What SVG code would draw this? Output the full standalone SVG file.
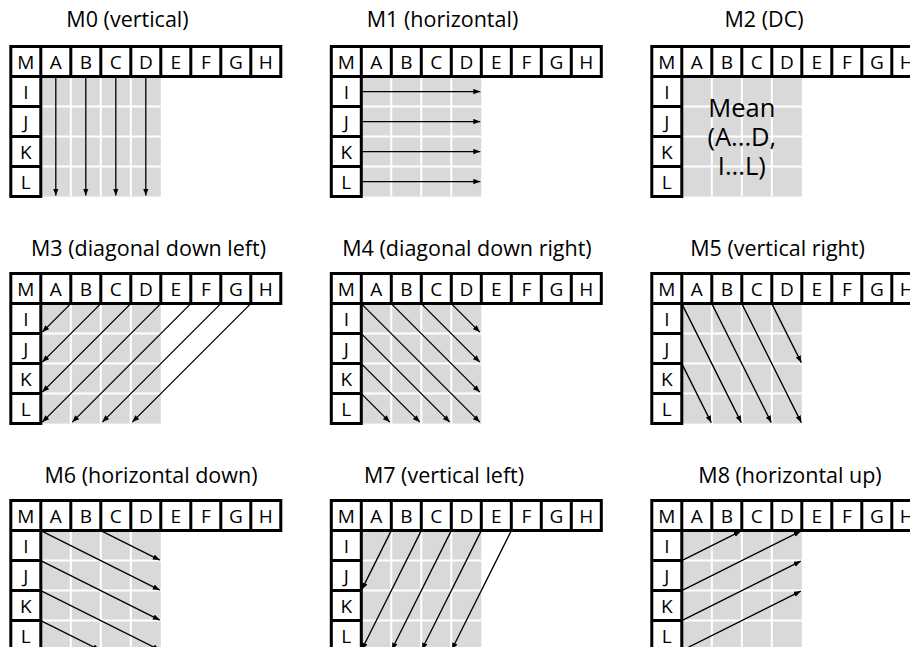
<svg xmlns="http://www.w3.org/2000/svg" xmlns:xlink="http://www.w3.org/1999/xlink" width="910" height="647" viewBox="0 0 910 647">
<style>
.t{font-family:"Open Sans","Noto Sans","Liberation Sans",sans-serif;font-size:21.5px;fill:#000;text-anchor:middle}
.c{font-family:"Open Sans","Noto Sans","Liberation Sans",sans-serif;font-size:19px;fill:#000;text-anchor:middle}
.mean{font-family:"Open Sans","Noto Sans","Liberation Sans",sans-serif;font-size:25.5px;fill:#000;text-anchor:middle}
.a line{stroke:#000;stroke-width:1.3;marker-end:url(#ah)}
</style>
<defs>
<marker id="ah" markerUnits="userSpaceOnUse" markerWidth="8" markerHeight="6" refX="7" refY="2.75" orient="auto">
<path d="M0,0L7,2.75L0,5.5Z" fill="#000"/>
</marker>
<g id="frame">
<rect x="30" y="30" width="120" height="120" fill="#d9d9d9"/>
<path d="M60,30V150M90,30V150M120,30V150M30,60H150M30,90H150M30,120H150" stroke="#fff" stroke-width="2"/>
<path d="M0,0H270V30H30V150H0Z M30,0V30M60,0V30M90,0V30M120,0V30M150,0V30M180,0V30M210,0V30M240,0V30M0,30H30M0,60H30M0,90H30M0,120H30" fill="none" stroke="#000" stroke-width="3"/>
</g>
</defs>
<rect width="910" height="647" fill="#fff"/>

<g id="titles">
<text class="t" x="127.5" y="27">M0 (vertical)</text>
<text class="t" x="442.5" y="27">M1 (horizontal)</text>
<text class="t" x="764" y="27">M2 (DC)</text>
<text class="t" x="148.5" y="255.5">M3 (diagonal down left)</text>
<text class="t" x="467" y="255.5">M4 (diagonal down right)</text>
<text class="t" x="777.5" y="255.5">M5 (vertical right)</text>
<text class="t" x="151" y="483">M6 (horizontal down)</text>
<text class="t" x="444" y="483">M7 (vertical left)</text>
<text class="t" x="790" y="483">M8 (horizontal up)</text>
</g>

<g id="m0" transform="translate(10.8,46.6)">
<use xlink:href="#frame"/>
<text class="c" x="15" y="22">M</text><text class="c" x="45" y="22">A</text><text class="c" x="75" y="22">B</text><text class="c" x="105" y="22">C</text><text class="c" x="135" y="22">D</text><text class="c" x="165" y="22">E</text><text class="c" x="195" y="22">F</text><text class="c" x="225" y="22">G</text><text class="c" x="255" y="22">H</text>
<text class="c" x="15" y="52">I</text><text class="c" x="15" y="82">J</text><text class="c" x="15" y="112">K</text><text class="c" x="15" y="142">L</text>
</g>
<g id="m1" transform="translate(331.3,46.6)">
<use xlink:href="#frame"/>
<text class="c" x="15" y="22">M</text><text class="c" x="45" y="22">A</text><text class="c" x="75" y="22">B</text><text class="c" x="105" y="22">C</text><text class="c" x="135" y="22">D</text><text class="c" x="165" y="22">E</text><text class="c" x="195" y="22">F</text><text class="c" x="225" y="22">G</text><text class="c" x="255" y="22">H</text>
<text class="c" x="15" y="52">I</text><text class="c" x="15" y="82">J</text><text class="c" x="15" y="112">K</text><text class="c" x="15" y="142">L</text>
</g>
<g id="m2" transform="translate(651.8,46.6)">
<use xlink:href="#frame"/>
<text class="c" x="15" y="22">M</text><text class="c" x="45" y="22">A</text><text class="c" x="75" y="22">B</text><text class="c" x="105" y="22">C</text><text class="c" x="135" y="22">D</text><text class="c" x="165" y="22">E</text><text class="c" x="195" y="22">F</text><text class="c" x="225" y="22">G</text><text class="c" x="255" y="22">H</text>
<text class="c" x="15" y="52">I</text><text class="c" x="15" y="82">J</text><text class="c" x="15" y="112">K</text><text class="c" x="15" y="142">L</text>
<text class="mean" x="90" y="70.5">Mean</text>
<text class="mean" x="90" y="99.5">(A...D,</text>
<text class="mean" x="90" y="128.5">I...L)</text>
</g>
<g id="m3" transform="translate(10.8,273.6)">
<use xlink:href="#frame"/>
<text class="c" x="15" y="22">M</text><text class="c" x="45" y="22">A</text><text class="c" x="75" y="22">B</text><text class="c" x="105" y="22">C</text><text class="c" x="135" y="22">D</text><text class="c" x="165" y="22">E</text><text class="c" x="195" y="22">F</text><text class="c" x="225" y="22">G</text><text class="c" x="255" y="22">H</text>
<text class="c" x="15" y="52">I</text><text class="c" x="15" y="82">J</text><text class="c" x="15" y="112">K</text><text class="c" x="15" y="142">L</text>
</g>
<g id="m4" transform="translate(331.3,273.6)">
<use xlink:href="#frame"/>
<text class="c" x="15" y="22">M</text><text class="c" x="45" y="22">A</text><text class="c" x="75" y="22">B</text><text class="c" x="105" y="22">C</text><text class="c" x="135" y="22">D</text><text class="c" x="165" y="22">E</text><text class="c" x="195" y="22">F</text><text class="c" x="225" y="22">G</text><text class="c" x="255" y="22">H</text>
<text class="c" x="15" y="52">I</text><text class="c" x="15" y="82">J</text><text class="c" x="15" y="112">K</text><text class="c" x="15" y="142">L</text>
</g>
<g id="m5" transform="translate(651.8,273.6)">
<use xlink:href="#frame"/>
<text class="c" x="15" y="22">M</text><text class="c" x="45" y="22">A</text><text class="c" x="75" y="22">B</text><text class="c" x="105" y="22">C</text><text class="c" x="135" y="22">D</text><text class="c" x="165" y="22">E</text><text class="c" x="195" y="22">F</text><text class="c" x="225" y="22">G</text><text class="c" x="255" y="22">H</text>
<text class="c" x="15" y="52">I</text><text class="c" x="15" y="82">J</text><text class="c" x="15" y="112">K</text><text class="c" x="15" y="142">L</text>
</g>
<g id="m6" transform="translate(10.8,500.6)">
<use xlink:href="#frame"/>
<text class="c" x="15" y="22">M</text><text class="c" x="45" y="22">A</text><text class="c" x="75" y="22">B</text><text class="c" x="105" y="22">C</text><text class="c" x="135" y="22">D</text><text class="c" x="165" y="22">E</text><text class="c" x="195" y="22">F</text><text class="c" x="225" y="22">G</text><text class="c" x="255" y="22">H</text>
<text class="c" x="15" y="52">I</text><text class="c" x="15" y="82">J</text><text class="c" x="15" y="112">K</text><text class="c" x="15" y="142">L</text>
</g>
<g id="m7" transform="translate(331.3,500.6)">
<use xlink:href="#frame"/>
<text class="c" x="15" y="22">M</text><text class="c" x="45" y="22">A</text><text class="c" x="75" y="22">B</text><text class="c" x="105" y="22">C</text><text class="c" x="135" y="22">D</text><text class="c" x="165" y="22">E</text><text class="c" x="195" y="22">F</text><text class="c" x="225" y="22">G</text><text class="c" x="255" y="22">H</text>
<text class="c" x="15" y="52">I</text><text class="c" x="15" y="82">J</text><text class="c" x="15" y="112">K</text><text class="c" x="15" y="142">L</text>
</g>
<g id="m8" transform="translate(651.8,500.6)">
<use xlink:href="#frame"/>
<text class="c" x="15" y="22">M</text><text class="c" x="45" y="22">A</text><text class="c" x="75" y="22">B</text><text class="c" x="105" y="22">C</text><text class="c" x="135" y="22">D</text><text class="c" x="165" y="22">E</text><text class="c" x="195" y="22">F</text><text class="c" x="225" y="22">G</text><text class="c" x="255" y="22">H</text>
<text class="c" x="15" y="52">I</text><text class="c" x="15" y="82">J</text><text class="c" x="15" y="112">K</text><text class="c" x="15" y="142">L</text>
</g>

<g id="connectors" class="a">
<g transform="translate(10.8,46.6)">
<line x1="45" y1="31" x2="45" y2="149"/><line x1="75" y1="31" x2="75" y2="149"/><line x1="105" y1="31" x2="105" y2="149"/><line x1="135" y1="31" x2="135" y2="149"/>
</g>
<g transform="translate(331.3,46.6)">
<line x1="31" y1="45" x2="149" y2="45"/><line x1="31" y1="75" x2="149" y2="75"/><line x1="31" y1="105" x2="149" y2="105"/><line x1="31" y1="135" x2="149" y2="135"/>
</g>
<g transform="translate(10.8,273.6)">
<line x1="60" y1="30" x2="31.5" y2="58.5"/><line x1="90" y1="30" x2="31.5" y2="88.5"/><line x1="120" y1="30" x2="31.5" y2="118.5"/><line x1="150" y1="30" x2="31.5" y2="148.5"/><line x1="180" y1="30" x2="61.5" y2="148.5"/><line x1="210" y1="30" x2="91.5" y2="148.5"/><line x1="240" y1="30" x2="121.5" y2="148.5"/>
</g>
<g transform="translate(331.3,273.6)">
<line x1="30" y1="30" x2="148.5" y2="148.5"/><line x1="60" y1="30" x2="148.5" y2="118.5"/><line x1="90" y1="30" x2="148.5" y2="88.5"/><line x1="120" y1="30" x2="148.5" y2="58.5"/><line x1="30" y1="60" x2="118.5" y2="148.5"/><line x1="30" y1="90" x2="88.5" y2="148.5"/><line x1="30" y1="120" x2="58.5" y2="148.5"/>
</g>
<g transform="translate(651.8,273.6)">
<line x1="30" y1="30" x2="89.5" y2="149"/><line x1="60" y1="30" x2="119.5" y2="149"/><line x1="90" y1="30" x2="149.5" y2="149"/><line x1="120" y1="30" x2="149.5" y2="89"/><line x1="30" y1="90" x2="59.5" y2="149"/>
</g>
<g transform="translate(10.8,500.6)">
<line x1="30" y1="30" x2="149" y2="89.5"/><line x1="30" y1="60" x2="149" y2="119.5"/><line x1="30" y1="90" x2="149" y2="149.5"/><line x1="90" y1="30" x2="149" y2="59.5"/><line x1="30" y1="120" x2="89" y2="149.5"/>
</g>
<g transform="translate(331.3,500.6)">
<line x1="60" y1="30" x2="30.5" y2="89"/><line x1="90" y1="30" x2="30.5" y2="149"/><line x1="120" y1="30" x2="60.5" y2="149"/><line x1="150" y1="30" x2="90.5" y2="149"/><line x1="180" y1="30" x2="120.5" y2="149"/>
</g>
<g transform="translate(651.8,500.6)">
<line x1="30" y1="60" x2="89" y2="30.5"/><line x1="30" y1="90" x2="149" y2="30.5"/><line x1="30" y1="120" x2="149" y2="60.5"/><line x1="30" y1="150" x2="149" y2="90.5"/>
</g>
</g>
</svg>
